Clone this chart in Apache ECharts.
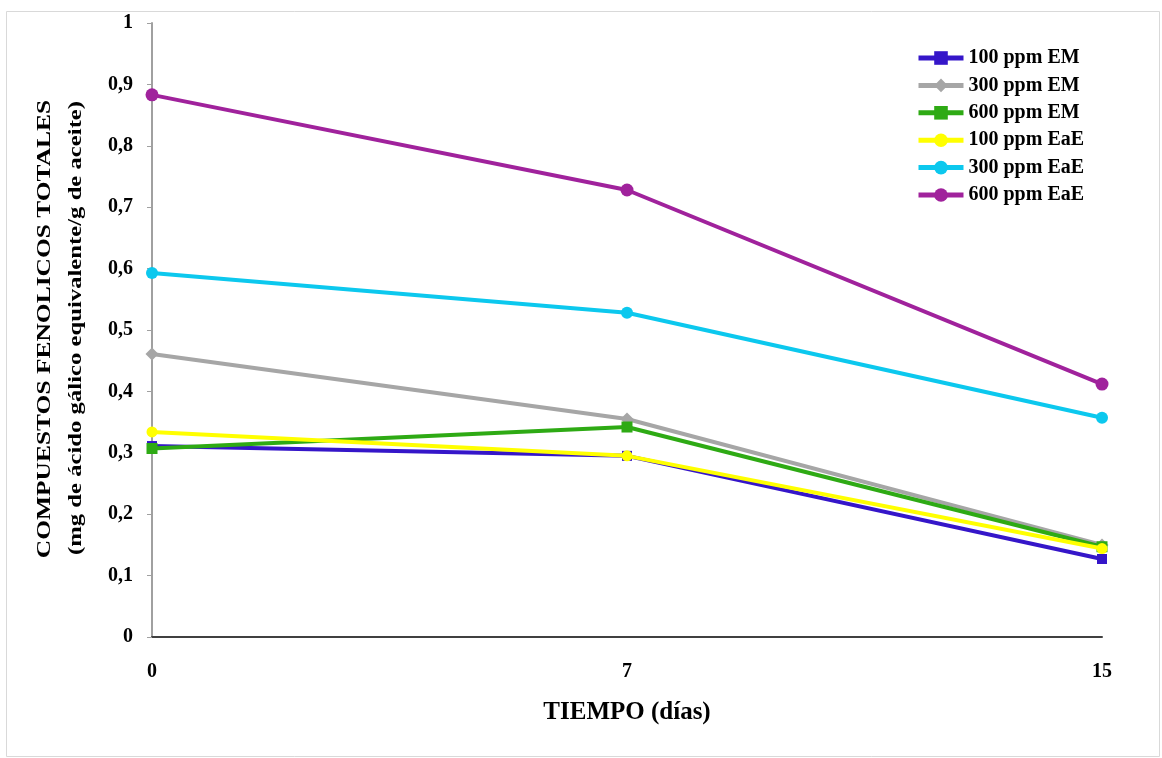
<!DOCTYPE html>
<html>
<head>
<meta charset="utf-8">
<script src="https://cdn.jsdelivr.net/npm/echarts@6/dist/echarts.min.js"></script>
<style>
html,body{margin:0;padding:0;background:#fff;}
#chart{width:1162px;height:758px;}
</style>
</head>
<body>
<div id="chart"></div>
<script>
var categories = ['0', '7', '15'];
var seriesNames = ['100 ppm EM', '300 ppm EM', '600 ppm EM', '100 ppm EaE', '300 ppm EaE', '600 ppm EaE'];
var em100 = [0.311, 0.295, 0.127];
var em300 = [0.461, 0.355, 0.150];
var em600 = [0.307, 0.342, 0.147];
var eae100 = [0.334, 0.295, 0.144];
var eae300 = [0.593, 0.528, 0.357];
var eae600 = [0.883, 0.728, 0.412];
var yTicks = [0, 0.1, 0.2, 0.3, 0.4, 0.5, 0.6, 0.7, 0.8, 0.9, 1];
var xTitle = 'TIEMPO (días)';
var yTitle1 = 'COMPUESTOS FENOLICOS TOTALES';
var yTitle2 = '(mg de ácido gálico equivalente/g de aceite)';

var FONT = '"Liberation Serif", "Times New Roman", serif';
var colors = ['#3516c9', '#a6a6a6', '#2eaa14', '#ffff00', '#0cc8ee', '#a0229c'];
var symbols = ['rect', 'diamond', 'rect', 'circle', 'circle', 'circle'];
var sizes = [10, 13, 11, 11, 12, 13];
var dataSets = [em100, em300, em600, eae100, eae300, eae600];

var series = dataSets.map(function (d, i) {
  return {
    name: seriesNames[i],
    type: 'line',
    data: d,
    symbol: symbols[i],
    symbolSize: sizes[i],
    showAllSymbol: true,
    lineStyle: {width: 4, color: colors[i]},
    itemStyle: {color: colors[i]},
    emphasis: {disabled: true},
    z: 2 + i
  };
});

var chart = echarts.init(document.getElementById('chart'), null, {renderer: 'canvas'});
chart.setOption({
  animation: false,
  backgroundColor: '#ffffff',
  color: colors,
  grid: {left: 152, right: 60, top: 23, bottom: 121, containLabel: false},
  graphic: [{
    type: 'rect',
    shape: {x: 6.5, y: 11.5, width: 1153, height: 745},
    style: {fill: 'none', stroke: '#d9d9d9', lineWidth: 1},
    z: -10, silent: true
  }, {
    type: 'text',
    x: 45, y: 329,
    rotation: Math.PI / 2,
    scaleX: 1.34,
    style: {text: yTitle1, font: 'bold 19px ' + FONT, fill: '#000', textAlign: 'center', textVerticalAlign: 'middle'},
    silent: true
  }, {
    type: 'text',
    x: 76, y: 328,
    rotation: Math.PI / 2,
    scaleX: 1.3,
    style: {text: yTitle2, font: 'bold 19px ' + FONT, fill: '#000', textAlign: 'center', textVerticalAlign: 'middle'},
    silent: true
  }],
  legend: {
    orient: 'vertical',
    left: 916,
    top: 48,
    padding: 0,
    itemWidth: 45,
    itemHeight: 17,
    itemGap: 7.4,
    data: seriesNames,
    lineStyle: {width: 5},
    textStyle: {fontFamily: FONT, fontWeight: 'bold', fontSize: 20, color: '#000', padding: [0, 0, 0, 0]}
  },
  xAxis: {
    type: 'category',
    data: categories,
    boundaryGap: false,
    name: xTitle,
    nameLocation: 'middle',
    nameGap: 63,
    nameTextStyle: {fontFamily: FONT, fontWeight: 'bold', fontSize: 25, color: '#000'},
    axisLine: {lineStyle: {color: '#404040', width: 2}},
    axisTick: {show: false},
    axisLabel: {margin: 25, fontFamily: FONT, fontWeight: 'bold', fontSize: 20, color: '#000'},
    splitLine: {show: false}
  },
  yAxis: {
    type: 'value',
    min: 0,
    max: 1,
    interval: 0.1,
    axisLine: {show: true, lineStyle: {color: '#a0a0a0', width: 2}},
    axisTick: {show: true, length: 5, inside: false, lineStyle: {color: '#a0a0a0', width: 1}},
    axisLabel: {
      margin: 19, fontFamily: FONT, fontWeight: 'bold', fontSize: 20, color: '#000',
      formatter: function (v) {
        var r = Math.round(v * 10) / 10;
        var match = yTicks.filter(function (t) { return Math.abs(t - r) < 1e-9; });
        return String(match.length ? match[0] : r).replace('.', ',');
      }
    },
    splitLine: {show: false}
  },
  series: series
});
</script>
</body>
</html>
